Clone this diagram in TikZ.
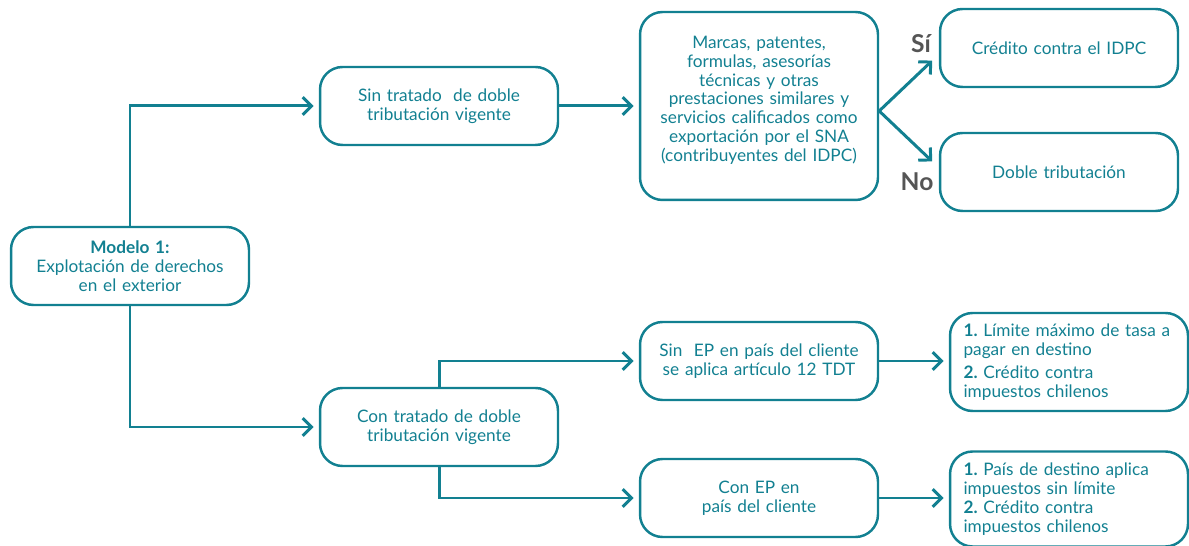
\documentclass[tikz,border=0pt]{standalone}
\usepackage{fontspec}
\setmainfont{Lato}
\usepackage{tikz}
\usetikzlibrary{arrows.meta}
\frenchspacing
\definecolor{tealline}{RGB}{18,128,145}
\definecolor{answergray}{RGB}{85,85,85}
\tikzstyle{box} = [rectangle, rounded corners=0.45cm, minimum width=4.76cm, minimum height=1.56cm, text width=4.5cm, align=center, draw=tealline, line width=1.4pt, text=tealline, font=\fontsize{9.8}{10.7}\selectfont]
\tikzstyle{listbox} = [box, align=left, text width=4.22cm, inner xsep=0.27cm]
\tikzstyle{answer} = [font=\fontsize{14}{14}\selectfont\bfseries, text=answergray]
\tikzstyle{arrow} = [draw=tealline, line width=1.7pt, shorten >=3pt, -{Straight Barb[length=5pt,width=10pt]}]

\begin{document}
\begin{tikzpicture}[x=0.02cm, y=-0.02cm]
  \useasboundingbox (0,0) rectangle (1189,546);

  \node (modelo) [box] at (130,266) {\textbf{Modelo 1:}\\Explotación de derechos\\en el exterior};
  \node (sintratado) [box] at (439,106) {Sin tratado \ de doble\\tributación vigente};
  \node (contratado) [box] at (439,427) {Con tratado de doble\\tributación vigente};
  \node (marcas) [box, minimum height=3.76cm] at (759,106) {Marcas, patentes,\\formulas, asesorías\\técnicas y otras\\prestaciones similares y\\servicios calificados como\\exportación por el SNA\\(contribuyentes del IDPC)\\[-2.5pt]\mbox{}};
  \node (credito) [box] at (1059,48) {Crédito contra el IDPC};
  \node (doble) [box] at (1059,172) {Doble tributación};
  \node (sinep) [box] at (759,361) {Sin \ EP en país del cliente\\se aplica artículo 12 TDT};
  \node (conep) [box] at (759,498) {Con EP en\\país del cliente};
  \node (limite) [listbox, minimum height=1.96cm] at (1069,362) {\textbf{1.} Límite máximo de tasa a\\pagar en destino\\[0.25em]\textbf{2.} Crédito contra\\impuestos chilenos};
  \node (sinlimite) [listbox, minimum height=1.9cm] at (1069,499) {\textbf{1.} País de destino aplica\\impuestos sin límite\\\textbf{2.} Crédito contra\\impuestos chilenos};

  \node (si) [answer] at (921,44) {Sí};
  \node (no) [answer] at (917,182) {No};
  \coordinate (sitip) at (936,57);
  \coordinate (notip) at (936,165);

  \draw [arrow] (modelo.north) |- (sintratado.west);
  \draw [arrow] (modelo.south) |- (contratado.west);
  \draw [arrow] (sintratado) -- (marcas);
  \draw [arrow] ([yshift=-0.1cm]marcas.east) -- (sitip);
  \draw [arrow] ([yshift=-0.1cm]marcas.east) -- (notip);
  \draw [arrow] (contratado.north) |- (sinep.west);
  \draw [arrow] (contratado.south) |- (conep.west);
  \draw [arrow] (sinep.east) -- (sinep.east -| limite.west);
  \draw [arrow] (conep.east) -- (conep.east -| sinlimite.west);

\end{tikzpicture}
\end{document}
